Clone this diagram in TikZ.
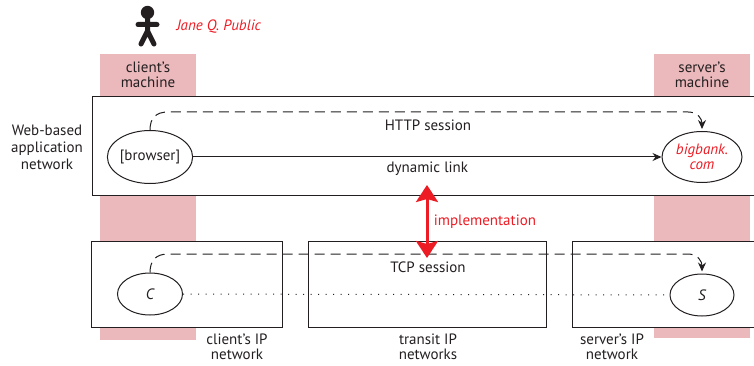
\documentclass[tikz,border=0pt]{standalone}
\usepackage{fontspec}
\setmainfont{PT Sans}
\usetikzlibrary{arrows.meta,shapes.geometric}
\definecolor{machpink}{RGB}{235,185,188}
\definecolor{namered}{RGB}{237,28,36}
\definecolor{ink}{RGB}{35,31,32}

\begin{document}
\begin{tikzpicture} [x=1pt,y=-1pt,align=center,
  every node/.style={font=\fontsize{15}{15.5}\selectfont,text=ink},
  net/.style={draw=ink,line width=1pt,fill=white,inner sep=0pt},
  host/.style={draw=ink,ellipse,line width=1pt,inner sep=0pt},
  red/.style={text=namered,font=\fontsize{15}{15.5}\selectfont\itshape},
  session/.style={draw=ink,line width=1pt,dash pattern=on 10pt off 6pt,-{Stealth[length=9pt,width=8pt]}}]
  \useasboundingbox (0,0) rectangle (754,366);
  \fill [machpink] (100,54) rectangle (196,340);
  \fill [machpink] (654,54) rectangle (750,338);
  \fill [ink] (147.5,12.5) circle (6.7);
  \draw [ink,line width=5pt,line cap=round] (147.5,18) -- (147.5,31)
        (138,24.5) -- (157,24.5) (147.5,31) -- (141,44) (147.5,31) -- (154,44);
  \path  (173,27)    node[red,anchor=west](jane) {Jane Q. Public}
         (148,75)    node(cmach) {client’s\\machine}
         (702,75)    node(smach) {server’s\\machine}
         (424,146)   node[net,minimum width=664,minimum height=98](webnet) {}
         (47,147)    node[font=\fontsize{15}{17}\selectfont](webtext) {Web-based\\application\\network}
         (150,157)   node[host,fill=white,minimum width=79,minimum height=53](browser) {[browser]}
         (702,157)   node[host,fill=white,minimum width=80,minimum height=51,red](bigbank) {bigbank.\\com}
         (186.5,284) node[net,minimum width=191,minimum height=86](cipnet) {}
         (427,284)   node[net,minimum width=238,minimum height=86](tipnet) {}
         (664,284)   node[net,minimum width=184,minimum height=86](sipnet) {}
         (150,294)   node[host,minimum width=65,minimum height=42](cnode) {\itshape C}
         (702,295)   node[host,minimum width=64,minimum height=42](snode) {\itshape S}
         (237,347)   node(cipname) {client’s IP\\network}
         (428,347)   node(tipname) {transit IP\\networks}
         (612,347)   node(sipname) {server’s IP\\network}
         (168,112)   coordinate(http1)
         (688,112)   coordinate(http2)
         (168,254)   coordinate(tcp1)
         (688,254)   coordinate(tcp2)
         (427,185)   coordinate(implup)
         (427,258)   coordinate(impldown);
    \draw [ink,line width=1pt,-{Stealth[length=9pt,width=8pt]}] (browser) to node [pos=0.5,below=1pt]{dynamic link} (bigbank);
    \draw [session,shorten >=2pt] (browser.north) .. controls +(0,-12) and +(-12,0) .. (http1)
          -- node [pos=0.5,below=4pt]{HTTP session} (http2) .. controls +(10,0) and +(0,-12) .. (bigbank.north);
    \draw [ink,line width=1pt,dash pattern=on 1pt off 6.5pt] (cnode) to (snode);
    \draw [session,shorten >=2pt] (cnode.north) .. controls +(0,-12) and +(-12,0) .. (tcp1)
          -- node [pos=0.5,below=4pt]{TCP session} (tcp2) .. controls +(10,0) and +(0,-12) .. (snode.north);
    \draw [namered,line width=3pt,{Stealth[length=17pt,width=22pt,inset=3pt]}-{Stealth[length=17pt,width=22pt,inset=3pt]}]
          (implup) to node [pos=0.5,right=2pt,red,font=\fontsize{15}{15.5}\selectfont]{implementation} (impldown);

\end{tikzpicture}
\end{document}
